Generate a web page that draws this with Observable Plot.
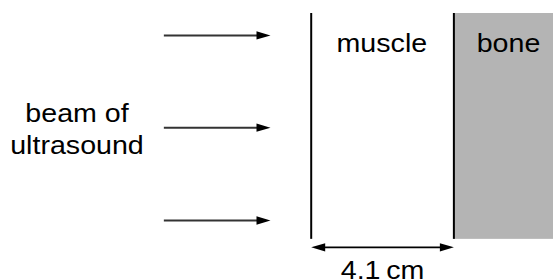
<!DOCTYPE html>
<html><head><meta charset="utf-8">
<script src="https://cdn.jsdelivr.net/npm/d3@7"></script>
<script src="https://cdn.jsdelivr.net/npm/@observablehq/plot@0.6"></script>
<style>html,body{margin:0;padding:0;background:#fff}</style>
</head><body><div id="chart"></div>
<script>
// Diagram values (centimetres: x = distance into the tissue, y = depth down the boundary)
const layerNames = ["muscle", "bone"];
const layerStart = [0, 4.1];
const layerEnd = [4.1, 7.1];
const tissueDepth = 6.49;
const beamDepths = [0.63, 3.28, 5.95];
const beamFrom = -4.22;
const beamTo = -1.17;
const beamLabel = "beam of\nultrasound";
const beamLabelX = -6.73;
const beamLabelY = 4.05;
const layerLabelX = [2.03, 5.67];
const layerLabelY = 1.12;
const thicknessLabel = "4.1\u2009cm";
const dimensionDepth = 6.72;
const thicknessLabelY = 7.615;

const layers = layerNames.map((name, i) => ({name, start: layerStart[i], end: layerEnd[i], labelX: layerLabelX[i]}));
const boundaries = [layerStart[0], layerEnd[0]];

const headRight = {draw(c) { c.moveTo(0, 0); c.lineTo(-14, -4.2); c.lineTo(-14, 4.2); c.closePath(); }};
const headLeft = {draw(c) { c.moveTo(0, 0); c.lineTo(14, -4.2); c.lineTo(14, 4.2); c.closePath(); }};

const k = 34.8, ox = 310.7, oy = 13;
const font = "Liberation Sans, Arial, Helvetica, sans-serif";

const chart = Plot.plot({
  width: 553,
  height: 280,
  margin: 0,
  style: {fontFamily: font, background: "#fff"},
  x: {domain: [-ox / k, (553 - ox) / k], range: [0, 553], axis: null},
  y: {domain: [-oy / k, (280 - oy) / k], range: [0, 280], axis: null},
  marks: [
    Plot.rect(layers.filter(d => d.name === "bone"), {x1: "start", x2: "end", y1: 0, y2: tissueDepth, fill: "#b4b4b4", clip: true}),
    Plot.ruleX(boundaries, {x: d => d, y1: 0, y2: tissueDepth, stroke: "#000", strokeWidth: 2}),
    Plot.ruleY(beamDepths, {y: d => d, x1: beamFrom, x2: beamTo - 0.2, stroke: "#333", strokeWidth: 2}),
    Plot.dot(beamDepths, {x: beamTo, y: d => d, symbol: headRight, fill: "#000", stroke: "none"}),
    Plot.ruleY([dimensionDepth], {y: d => d, x1: layerStart[0] + 0.2, x2: layerEnd[0] - 0.2, stroke: "#000", strokeWidth: 1.6}),
    Plot.dot([dimensionDepth], {x: layerStart[0], y: d => d, symbol: headLeft, fill: "#000", stroke: "none"}),
    Plot.dot([dimensionDepth], {x: layerEnd[0], y: d => d, symbol: headRight, fill: "#000", stroke: "none"}),
    Plot.text(layers, {x: "labelX", y: () => layerLabelY, text: "name", fontSize: 26, lineAnchor: "bottom", fill: "#000"}),
    Plot.text([beamLabel], {x: () => beamLabelX, y: () => beamLabelY, text: d => d, fontSize: 26, lineAnchor: "bottom", lineHeight: 1.24, fill: "#000"}),
    Plot.text([thicknessLabel], {x: () => (layerStart[0] + layerEnd[0]) / 2, y: () => thicknessLabelY, text: d => d, fontSize: 26, lineAnchor: "bottom", fill: "#000"})
  ]
});
// the reference lettering is slightly wide: stretch each label horizontally about its anchor
d3.select(chart).selectAll("text").attr("transform", function() {
  return (this.getAttribute("transform") || "") + " scale(1.1,1)";
});
document.getElementById("chart").append(chart);
</script>
</body></html>
